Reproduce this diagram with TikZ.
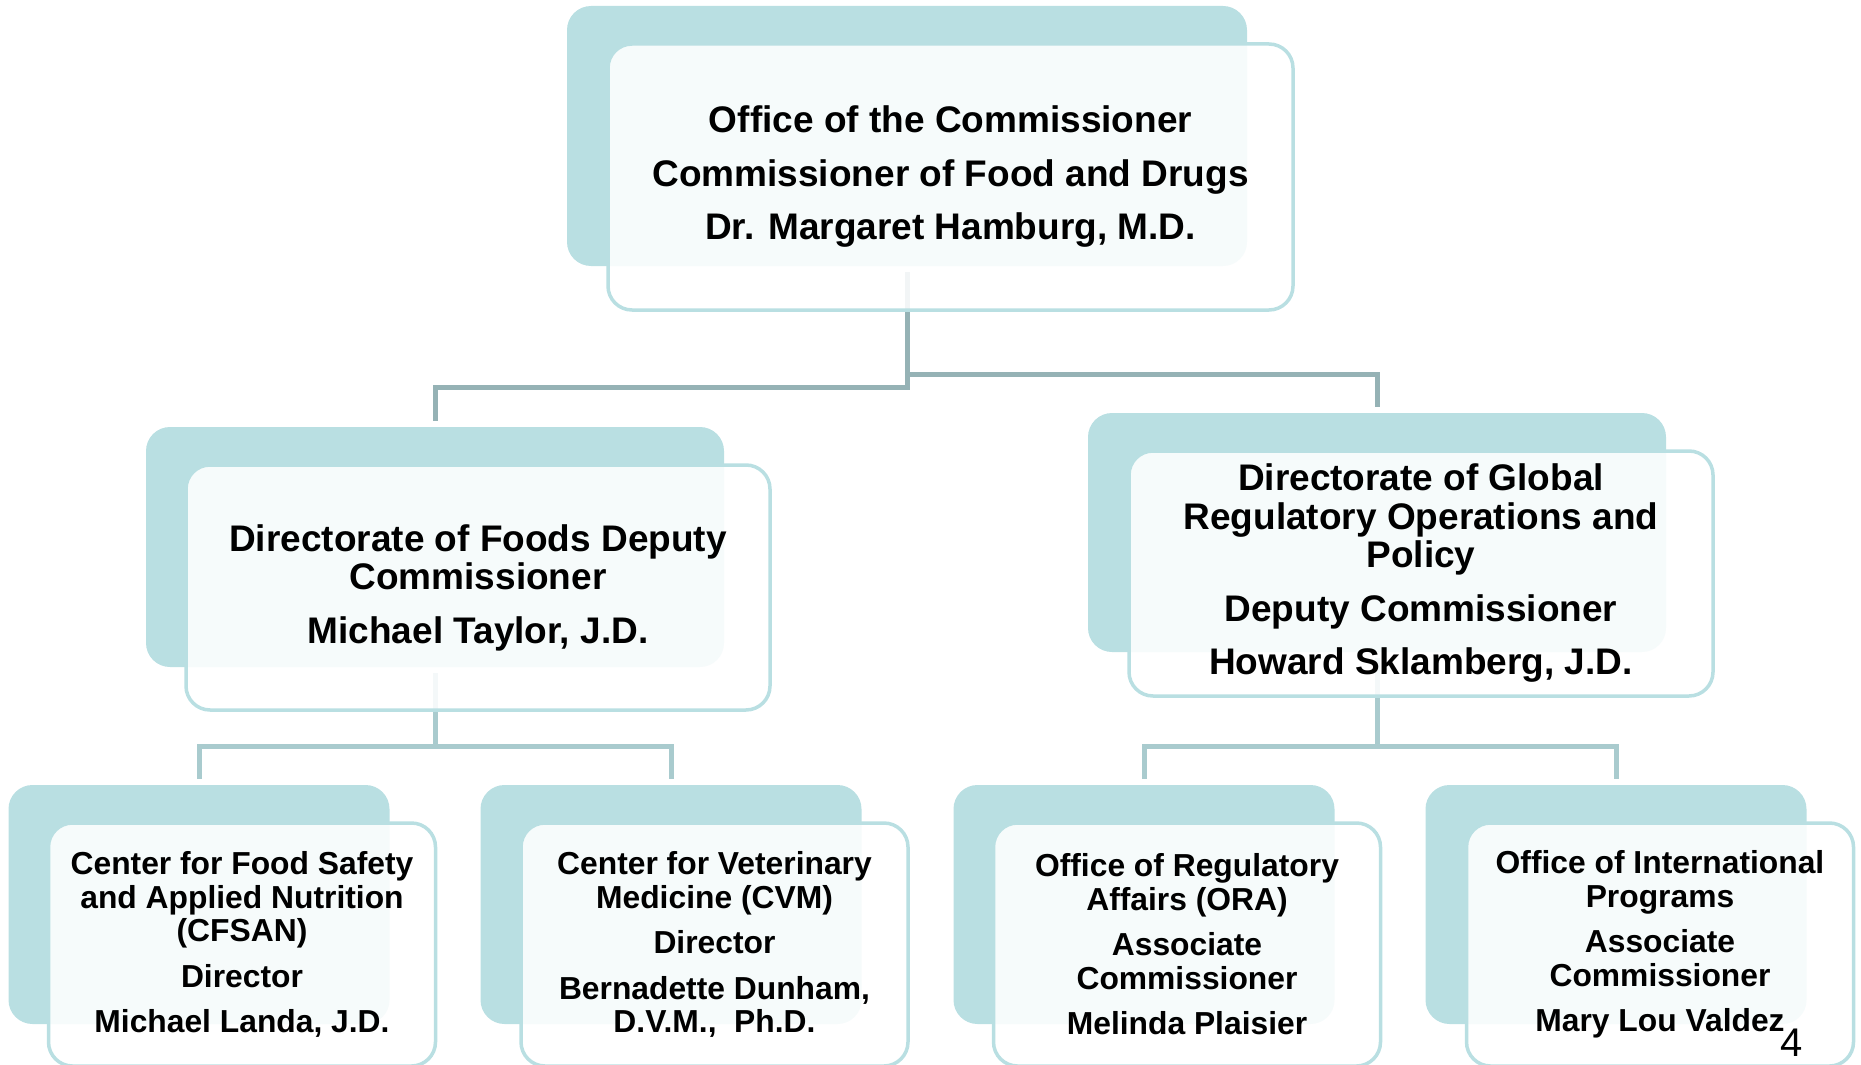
\documentclass[tikz,border=0pt]{standalone}
\usepackage{fontspec}
\setmainfont{Liberation Sans}
\definecolor{boxteal}{HTML}{B9DFE2}
\definecolor{linegray}{HTML}{95B2B5}
\definecolor{linelight}{HTML}{A9CBCE}
\tikzset{
    backbox/.style 2 args={rectangle, fill=boxteal, rounded corners=24pt, inner sep=0pt, outer sep=0pt,
        minimum width=#1pt, minimum height=#2pt},
    frontbox/.style 2 args={rectangle, draw=boxteal, line width=3.5pt, fill=white, fill opacity=0.88,
        text opacity=1, rounded corners=24pt, inner sep=0pt, align=center,
        minimum width=#1pt, minimum height=#2pt},
    bigtext/.style={font=\bfseries\fontsize{37}{38.5}\selectfont},
    smalltext/.style={font=\bfseries\fontsize{31.8}{33.5}\selectfont},
    orgline/.style={draw=linegray, line width=5pt, shorten <=6pt, shorten >=6pt},
}
\begin{document}
\begin{tikzpicture}[x=1pt, y=-1pt]
    \useasboundingbox (0,0) rectangle (1861,1065);
    \clip (0,0) rectangle (1861,1065);
    \node[backbox={680}{260}] (topback) at (907,136) {};
    \node[backbox={578}{240}] (foodsback) at (435,547) {};
    \node[backbox={578}{239}] (globalback) at (1377,532.5) {};
    \node[backbox={381}{239}] (cfsanback) at (199,904.5) {};
    \node[backbox={381}{239}] (cvmback) at (671,904.5) {};
    \node[backbox={381}{239}] (oraback) at (1144,904.5) {};
    \node[backbox={381}{239}] (oipback) at (1616,904.5) {};
    \coordinate (topjl) at (907,387);
    \coordinate (topjr) at (907,374);
    \coordinate (foodsj) at (435,746);
    \coordinate (globalj) at (1377,746);
    \draw[orgline] (topback.south) -- (topjl) -| (foodsback.north);
    \draw[orgline] (topback.south) -- (topjr) -| (globalback.north);
    \draw[orgline, draw=linelight] (foodsback.south) -- (foodsj) -| (cfsanback.north);
    \draw[orgline, draw=linelight] (foodsback.south) -- (foodsj) -| (cvmback.north);
    \draw[orgline, draw=linelight] (globalback.south) -- (globalj) -| (oraback.north);
    \draw[orgline, draw=linelight] (globalback.south) -- (globalj) -| (oipback.north);
    \node[frontbox={685}{266}, bigtext] (commish) at (950.5,177)
        {Office of the Commissioner\\[15pt]Commissioner of Food and Drugs\\[15pt]Dr. Margaret Hamburg, M.D.};
    \node[frontbox={584}{245}, bigtext] (foods) at (478,587.5)
        {Directorate of Foods Deputy\\Commissioner\\[15pt]Michael Taylor, J.D.};
    \node[frontbox={584}{245}, bigtext] (global) at (1421,573.5)
        {Directorate of Global\\Regulatory Operations and\\Policy\\[15pt]Deputy Commissioner\\[15pt]Howard Sklamberg, J.D.};
    \node[frontbox={387}{243}, smalltext] (cfsan) at (242,944.5)
        {Center for Food Safety\\and Applied Nutrition\\(CFSAN)\\[12pt]Director\\[12pt]Michael Landa, J.D.};
    \node[frontbox={387}{243}, smalltext] (cvm) at (714.5,944.5)
        {Center for Veterinary\\Medicine (CVM)\\[12pt]Director\\[12pt]Bernadette Dunham,\\D.V.M.,\ \ Ph.D.};
    \node[frontbox={387}{243}, smalltext] (ora) at (1187,944.5)
        {Office of Regulatory\\Affairs (ORA)\\[12pt]Associate\\Commissioner\\[12pt]Melinda Plaisier};
    \node[frontbox={387}{243}, smalltext] (oip) at (1660,944.5)
        {Office of International\\Programs\\[12pt]Associate\\Commissioner\\[12pt]Mary Lou Valdez};
    \node[font=\fontsize{40}{40}\selectfont, inner sep=0pt] (pagenum) at (1792,1043) {4};
\end{tikzpicture}
\end{document}
